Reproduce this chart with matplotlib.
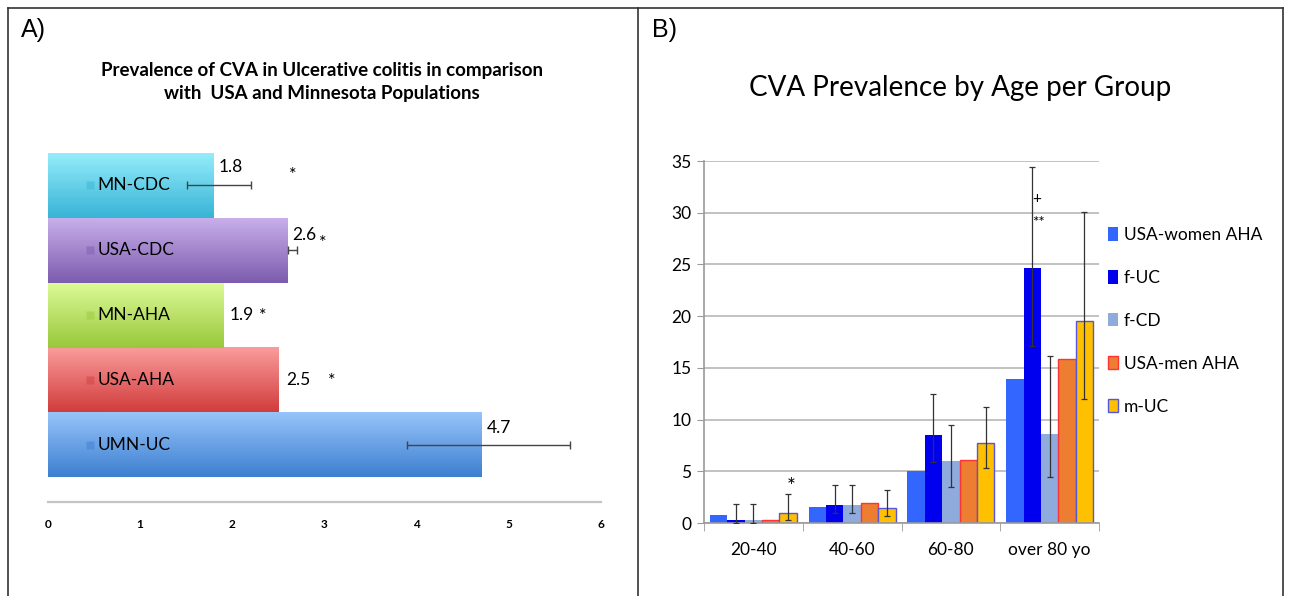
import matplotlib
matplotlib.use("Agg")
import matplotlib.pyplot as plt
import numpy as np
from matplotlib.colors import to_rgb
from matplotlib.lines import Line2D
from matplotlib.patches import Patch

plt.rcParams['font.family'] = ['Lato', 'DejaVu Sans']

# ---- panel A data ----
groups_a = ['UMN-UC', 'USA-AHA', 'MN-AHA', 'USA-CDC', 'MN-CDC']
values_a = [4.7, 2.5, 1.9, 2.6, 1.8]
err_lo_a = [0.81, 0.0, 0.0, 0.0, 0.29]
err_hi_a = [0.96, 0.0, 0.0, 0.10, 0.40]
stars_a = ['', '*', '*', '*', '*']
colors_top = ['#96c4fa', '#fa9c9c', '#dcfa96', '#c8aeea', '#94ecfa']
colors_bot = ['#3d7fd0', '#d23c3c', '#98c83c', '#7c5cae', '#38b4d6']

# ---- panel B data ----
ages = ['20-40', '40-60', '60-80', 'over 80 yo']
series_b = ['USA-women AHA', 'f-UC', 'f-CD', 'USA-men AHA', 'm-UC']
usa_women = [0.74, 1.5, 5.07, 13.97]
f_uc = [0.26, 1.77, 8.48, 24.7]
f_cd = [0.26, 1.77, 6.0, 8.57]
usa_men = [0.26, 1.9, 6.1, 15.83]
m_uc = [0.96, 1.45, 7.77, 19.5]
f_uc_lo = [0.0, 0.96, 5.88, 17.1]
f_uc_hi = [1.86, 3.7, 12.43, 34.46]
f_cd_lo = [0.0, 0.96, 3.44, 4.4]
f_cd_hi = [1.86, 3.7, 9.47, 16.1]
m_uc_lo = [0.3, 0.64, 5.3, 12.0]
m_uc_hi = [2.8, 3.2, 11.24, 30.1]

W, H = 1290, 596
fig = plt.figure(figsize=(W / 100, H / 100), dpi=100)


def fx(px):
    return px / W


def fy(py):
    return 1 - py / H


# panel frames
for (x0, y0, x1, y1) in [(8, 8, 1283, 8), (8, 8, 8, 596), (638, 8, 638, 596), (1283, 8, 1283, 596)]:
    fig.add_artist(Line2D([fx(x0), fx(x1)], [fy(y0), fy(y1)], color='#333333', lw=1.2))

fig.text(fx(21), fy(30), 'A)', fontsize=18, family='Liberation Sans', va='center', ha='left')
fig.text(fx(652), fy(30), 'B)', fontsize=18, family='Liberation Sans', va='center', ha='left')

# ================= panel A =================
axA = fig.add_axes([fx(48), fy(502), fx(601) - fx(48), fy(153) - fy(502)])
for i, v in enumerate(values_a):
    c0 = np.array(to_rgb(colors_bot[i]))
    c1 = np.array(to_rgb(colors_top[i]))
    t = np.linspace(0, 1, 64)[:, None]
    grad = (c0 * (1 - t) + c1 * t)[:, None, :]
    axA.imshow(grad, extent=[0, v, i - 0.5, i + 0.5], origin='lower',
               aspect='auto', interpolation='bilinear', zorder=1)
    # small square and name inside bar
    axA.plot(0.46, i, marker='s', ms=6, color=c0 * 0.9 + c1 * 0.1, mec='none', alpha=0.6, zorder=3)
    axA.text(0.54, i, groups_a[i], fontsize=12.5, va='center', ha='left', zorder=3)
    if err_lo_a[i] > 0 or err_hi_a[i] > 0:
        axA.errorbar(v, i, xerr=[[err_lo_a[i]], [err_hi_a[i]]], fmt='none',
                     ecolor='#444444', elinewidth=1, capsize=3, capthick=1, zorder=4)

label_pos = [(0.06, 0.26), (0.08, 0.0), (0.07, 0.0), (0.05, 0.23), (0.05, 0.28)]
star_pos = [None, (3.08, -0.02), (2.33, -0.02), (2.98, 0.11), (2.66, 0.16)]
for i, v in enumerate(values_a):
    dx, dy = label_pos[i]
    axA.text(v + dx, i + dy, f'{v}', fontsize=12.5, va='center', ha='left', zorder=4)
    if star_pos[i] is not None:
        sx, sdy = star_pos[i]
        axA.text(sx, i + sdy, stars_a[i], fontsize=13, va='center', ha='center', zorder=4)

axA.set_xlim(0, 6)
axA.set_ylim(-0.88, 4.5)
axA.set_xticks(range(7))
axA.set_xticklabels([str(k) for k in range(7)], fontsize=8.5, fontweight='bold')
axA.set_yticks([])
axA.tick_params(axis='x', length=0, pad=12)
for s in ['top', 'right', 'left']:
    axA.spines[s].set_visible(False)
axA.spines['bottom'].set_color('#c4c4c4')
axA.spines['bottom'].set_linewidth(1.6)

fig.text(fx(322), fy(82), 'Prevalence of CVA in Ulcerative colitis in comparison\nwith  USA and Minnesota Populations',
         fontsize=13.5, fontweight='bold', ha='center', va='center', linespacing=1.4)

# ================= panel B =================
axB = fig.add_axes([fx(704), fy(523), fx(1099) - fx(704), fy(161) - fy(523)])
x = np.arange(len(ages))
bw = 0.176
vals_b = [usa_women, f_uc, f_cd, usa_men, m_uc]
face_b = ['#3366ff', '#0000ee', '#8faadc', '#ed7d31', '#ffc000']
edge_b = ['none', 'none', 'none', '#ff3333', '#5555dd']
for k, vals in enumerate(vals_b):
    axB.bar(x + (k - 2) * bw, vals, width=bw, color=face_b[k], edgecolor=edge_b[k],
            linewidth=1.0, label=series_b[k], zorder=2)

for k, lo, hi in [(1, f_uc_lo, f_uc_hi), (2, f_cd_lo, f_cd_hi), (4, m_uc_lo, m_uc_hi)]:
    v = np.array(vals_b[k])
    axB.errorbar(x + (k - 2) * bw, v, yerr=[v - np.array(lo), np.array(hi) - v], fmt='none',
                 ecolor='#333333', elinewidth=0.9, capsize=2.5, capthick=0.9, zorder=3)

axB.text(x[0] + 2 * bw + 0.03, 3.5, '*', fontsize=15, ha='center', va='center')
axB.text(x[3] - bw + 0.04, 31.3, '+', fontsize=11, ha='center', va='center')
axB.text(x[3] - bw + 0.06, 29.0, '**', fontsize=11, ha='center', va='center')

axB.set_xlim(-0.5, 3.5)
axB.set_ylim(0, 35)
axB.set_yticks(range(0, 36, 5))
axB.set_yticklabels([str(k) for k in range(0, 36, 5)], fontsize=12.5)
axB.set_xticks(x)
axB.set_xticklabels(ages, fontsize=12.5)
axB.set_xticks(np.arange(-0.5, 3.6, 1), minor=True)
axB.tick_params(axis='x', which='major', length=0, pad=14)
axB.tick_params(axis='x', which='minor', length=6, color='#999999', direction='out')
axB.tick_params(axis='y', length=5, color='#999999', pad=4)
axB.yaxis.grid(True, color='#b8b8b8', lw=1.2, zorder=0)
axB.set_axisbelow(True)
for s in ['top', 'right']:
    axB.spines[s].set_visible(False)
for s in ['left', 'bottom']:
    axB.spines[s].set_color('#999999')
    axB.spines[s].set_linewidth(1.2)

handles = [Patch(facecolor=face_b[k], edgecolor=edge_b[k], lw=1) for k in range(5)]
fig.legend(handles, series_b, loc='upper left', bbox_to_anchor=(fx(1108), fy(227)),
           frameon=False, fontsize=12.5, handlelength=0.6, handleheight=0.8,
           handletextpad=0.3, labelspacing=1.55, borderpad=0, borderaxespad=0)

fig.text(fx(960), fy(88), 'CVA Prevalence by Age per Group', fontsize=20, ha='center', va='center')

fig.savefig('out.png', dpi=100)
